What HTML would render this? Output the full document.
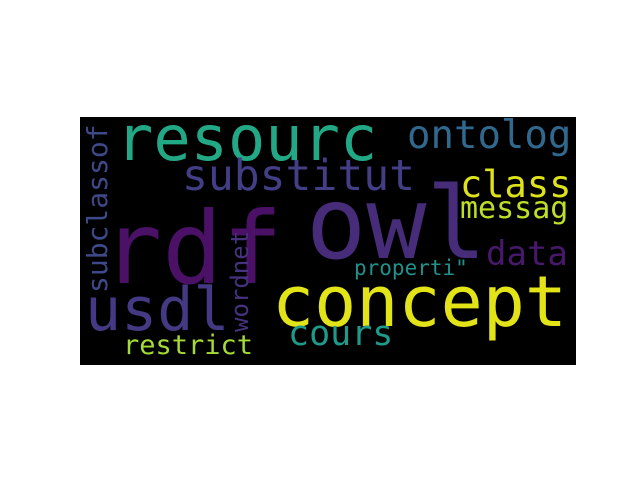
<!DOCTYPE html>
<html><head><meta charset="utf-8"><style>
html,body{margin:0;padding:0;background:#fff;width:640px;height:480px;overflow:hidden}
svg text{font-family:"DejaVu Sans Mono","Liberation Mono",monospace}
</style></head><body>
<svg width="640" height="480">
<rect x="80" y="117" width="496" height="248" fill="#000"/>
<g id="words"></g>
</svg>
<script>
const words=["rdf","owl","concept","resourc","usdl","substitut","ontolog","class","messag","data","properti\"","cours","restrict","subclassof","wordnet"];
const sizes=[100,100,70,62,60,43,39,37,30,34,21,35,27,28,24];
const colors=["#4a1166","#472c7a","#e2e418","#22a884","#443983","#433e85","#31688e","#dde318","#bddf26","#48186a","#21918c","#1f9a8a","#a5db36","#3e4989","#46327e"];
const xs=[102,306,272,116,85,182,407,460,460,486,354,288,123,107,248];
const ys=[283,258,326,160,330,190,148,197,218,265,275,345,354,293,332];
const rot=[0,0,0,0,0,0,0,0,0,0,0,0,0,1,1];
const g=document.getElementById('words');
for(let i=0;i<words.length;i++){
  const t=document.createElementNS('http://www.w3.org/2000/svg','text');
  t.setAttribute('x',xs[i]);t.setAttribute('y',ys[i]);
  t.setAttribute('font-size',sizes[i]);t.setAttribute('fill',colors[i]);
  if(rot[i])t.setAttribute('transform','rotate(-90 '+xs[i]+' '+ys[i]+')');
  t.textContent=words[i];
  
  
  g.appendChild(t);
}
</script>
</body></html>
